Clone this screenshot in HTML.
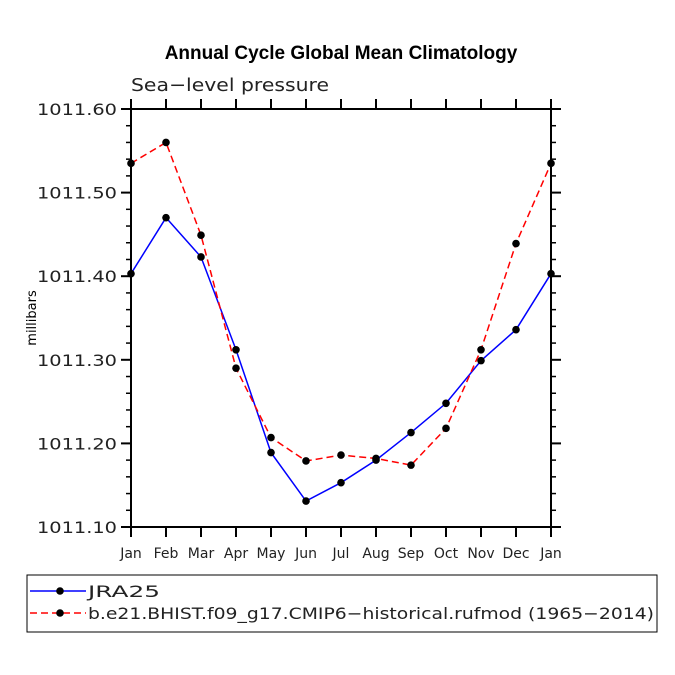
<!DOCTYPE html>
<html><head><meta charset="utf-8"><style>body{margin:0;background:#fff}svg{display:block;font-family:"DejaVu Sans","Liberation Sans",sans-serif}</style></head>
<body>
<svg id="chart" width="675" height="675" xmlns="http://www.w3.org/2000/svg">
<text x="341" y="59" text-anchor="middle" font-family="Liberation Sans" font-weight="bold" font-size="19">Annual Cycle Global Mean Climatology</text>
<text x="131" y="91" font-size="18" fill="#222" textLength="198" lengthAdjust="spacingAndGlyphs">Sea−level pressure</text>
<text transform="translate(36,318) rotate(-90)" text-anchor="middle" font-size="13">millibars</text>
<g id="axes"></g><g id="series"></g>
<rect x="27" y="575" width="630" height="57" fill="none" stroke="#000" stroke-width="1"/>
<g>
<line x1="30" y1="591" x2="86" y2="591" stroke="#0000ff" stroke-width="1.5"/><circle cx="60" cy="591" r="3.8"/>
<text x="88" y="597" font-size="16" fill="#222" textLength="72" lengthAdjust="spacingAndGlyphs">JRA25</text></g>
<g>
<line x1="30" y1="613" x2="86" y2="613" stroke="#ff0000" stroke-width="1.5" stroke-dasharray="7,4"/><circle cx="60" cy="613" r="3.8"/>
<text x="88" y="619" font-size="16" fill="#222" textLength="566" lengthAdjust="spacingAndGlyphs">b.e21.BHIST.f09_g17.CMIP6−historical.rufmod (1965−2014)</text></g>
</svg>
<script>
const months=["Jan","Feb","Mar","Apr","May","Jun","Jul","Aug","Sep","Oct","Nov","Dec","Jan"];
const yTicks=[1011.10,1011.20,1011.30,1011.40,1011.50,1011.60];
const yTickLabels=["1011.10","1011.20","1011.30","1011.40","1011.50","1011.60"];
const jra25=[1011.403,1011.470,1011.423,1011.312,1011.189,1011.131,1011.153,1011.180,1011.213,1011.248,1011.299,1011.336,1011.403];
const model=[1011.535,1011.560,1011.449,1011.290,1011.207,1011.179,1011.186,1011.182,1011.174,1011.218,1011.312,1011.439,1011.535];
const L=131,R=551,T=109,B=527,ymin=1011.10,ymax=1011.60;
const xs=i=>L+i*(R-L)/(months.length-1);
const ys=v=>B-(v-ymin)/(ymax-ymin)*(B-T);
const NS="http://www.w3.org/2000/svg";
function mk(tag,at,parent){const e=document.createElementNS(NS,tag);for(const k in at)e.setAttribute(k,at[k]);parent.appendChild(e);return e;}
const ax=document.getElementById('axes');
let f=mk('rect',{x:L,y:T,width:R-L,height:B-T,fill:'none',stroke:'#000','stroke-width':2},ax);


months.forEach((m,i)=>{const x=xs(i);
 mk('line',{x1:x,y1:B,x2:x,y2:B+10,stroke:'#000','stroke-width':2},ax);
 mk('line',{x1:x,y1:T,x2:x,y2:T-10,stroke:'#000','stroke-width':2},ax);
 const t=mk('text',{x:x,y:B+31,'text-anchor':'middle','font-size':14,fill:'#222'},ax);t.textContent=m;
 
 
});
yTicks.forEach((v,i)=>{const y=ys(v);
 mk('line',{x1:L,y1:y,x2:L-10,y2:y,stroke:'#000','stroke-width':2},ax);
 mk('line',{x1:R,y1:y,x2:R+10,y2:y,stroke:'#000','stroke-width':2},ax);
 if(i<yTicks.length-1){for(let k=1;k<5;k++){const yy=ys(v+k*0.02);
  mk('line',{x1:L,y1:yy,x2:L-5,y2:yy,stroke:'#000','stroke-width':1.5},ax);
  mk('line',{x1:R,y1:yy,x2:R+5,y2:yy,stroke:'#000','stroke-width':1.5},ax);}}
 const t=mk('text',{x:37,y:y+6,'font-size':16,fill:'#222',textLength:80,lengthAdjust:'spacingAndGlyphs'},ax);t.textContent=yTickLabels[i];
 
 
});
const sg=document.getElementById('series');
function draw(data,color,dash,name){
 const p=mk('polyline',{points:data.map((v,i)=>xs(i)+','+ys(v)).join(' '),fill:'none',stroke:color,'stroke-width':1.5},sg);
 if(dash)p.setAttribute('stroke-dasharray',dash);
 
 
 data.forEach((v,i)=>{const c=mk('circle',{cx:xs(i),cy:ys(v),r:3.8,fill:'#000'},sg);
  
  });
}
draw(jra25,'#0000ff',null,'jra25');
draw(model,'#ff0000','7,4','model');
</script>
</body></html>
